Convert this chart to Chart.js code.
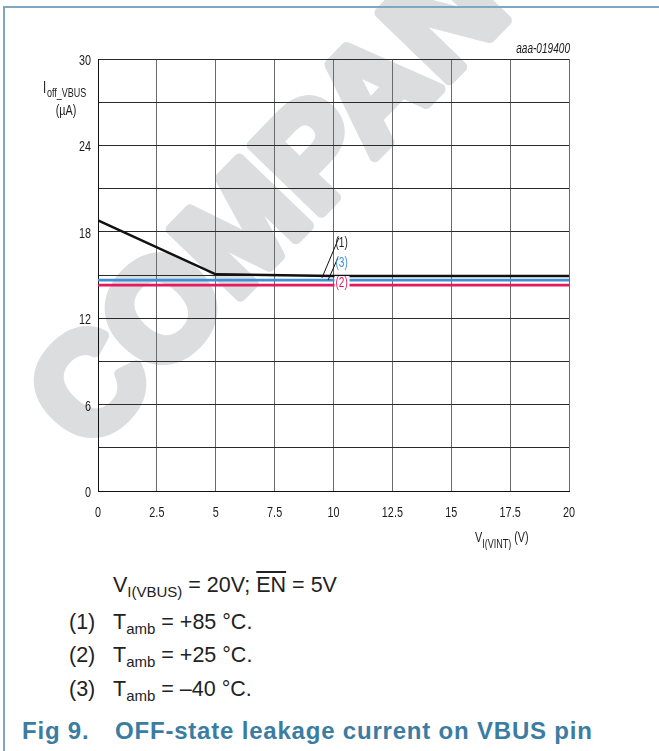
<!DOCTYPE html>
<html>
<head>
<meta charset="utf-8">
<script src="https://cdn.jsdelivr.net/npm/chart.js@4.4.1/dist/chart.umd.min.js"></script>
<style>
  body { margin: 0; background: #fff; width: 659px; height: 751px; overflow: hidden; position: relative; font-family: "Liberation Sans", Arial, sans-serif; color: #222; }
  #frame { position: absolute; left: 3px; top: 6px; width: 720px; height: 800px; border-left: 2px solid #7fa7c1; border-top: 2px solid #7fa7c1; z-index: 5; pointer-events: none; }
  #chartBox { position: absolute; left: 0; top: 0; }
  .cap { position: absolute; font-size: 21.5px; line-height: 21.5px; white-space: nowrap; }
  .cap sub { font-size: 15px; vertical-align: -5px; line-height: 0; }
  .num { position: absolute; left: 69px; }
  .txt { position: absolute; left: 113px; }
  .over { text-decoration: overline; }
  .fig { position: absolute; top: 719px; font-size: 24px; line-height: 24px; letter-spacing: 0.8px; font-weight: bold; color: #3b7ca3; white-space: nowrap; }
</style>
</head>
<body>
<div id="frame"></div>
<div id="chartBox"><canvas id="leakChart" width="659" height="550"></canvas></div>

<div class="cap" style="left:113px; top:575px;">V<sub>I(VBUS)</sub> = 20V; <span class="over">EN</span> = 5V</div>
<div class="cap" style="left:0; top:612px;"><span class="num">(1)</span><span class="txt">T<sub>amb</sub> = +85 °C.</span></div>
<div class="cap" style="left:0; top:645px;"><span class="num">(2)</span><span class="txt">T<sub>amb</sub> = +25 °C.</span></div>
<div class="cap" style="left:0; top:679px;"><span class="num">(3)</span><span class="txt">T<sub>amb</sub> = –40 °C.</span></div>
<div class="fig" style="left:22px;">Fig 9.</div>
<div class="fig" style="left:115px;">OFF-state leakage current on VBUS pin</div>

<script>
// curve (1) Tamb = +85 C
const vint85 = [0, 5, 10, 20];
const ioff85 = [18.8, 15.05, 14.93, 14.93];
// curve (2) Tamb = +25 C
const vint25 = [0, 20];
const ioff25 = [14.3, 14.3];
// curve (3) Tamb = -40 C
const vintM40 = [0, 20];
const ioffM40 = [14.65, 14.65];

const xTickLabels = ['0', '2.5', '5', '7.5', '10', '12.5', '15', '17.5', '20'];
const yTickLabels = ['0', '6', '12', '18', '24', '30'];

const FONT = '"Liberation Sans", Arial, sans-serif';

function toXY(xs, ys) {
    return xs.map((x, i) => ({ x: x, y: ys[i] }));
}

// condensed text, the original uses a narrow face
function narrowText(ctx, text, x, y, size, align, style) {
    ctx.save();
    ctx.translate(x, y);
    ctx.scale(0.72, 1);
    ctx.font = (style || '') + ' ' + size + 'px ' + FONT;
    ctx.textAlign = align || 'left';
    ctx.fillText(text, 0, 0);
    const w = ctx.measureText(text).width * 0.72;
    ctx.restore();
    return w;
}

const extras = {
    id: 'extras',
    beforeDraw(chart) {
        const ctx = chart.ctx;
        ctx.save();
        ctx.fillStyle = '#fff';
        ctx.fillRect(0, 0, chart.width, chart.height);
        // watermark
        ctx.translate(88, 454);
        ctx.rotate(-46 * Math.PI / 180);
        ctx.font = 'bold 140px ' + FONT;
        ctx.fillStyle = '#dcdddf';
        ctx.strokeStyle = '#dcdddf';
        ctx.lineWidth = 11;
        ctx.lineJoin = 'round';
        ctx.fillText('COMPANY', 0, 0);
        ctx.strokeText('COMPANY', 0, 0);
        ctx.restore();
    },
    afterDraw(chart) {
        const ctx = chart.ctx;
        const xs = chart.scales.x, ys = chart.scales.y;
        ctx.save();
        ctx.fillStyle = '#1a1a1a';
        ctx.textBaseline = 'alphabetic';

        // tick labels
        xs.ticks.forEach(t => {
            const lab = xTickLabels.find(s => parseFloat(s) === t.value);
            if (lab) narrowText(ctx, lab, xs.getPixelForValue(t.value), xs.top + 26, 15, 'center');
        });
        ys.ticks.forEach(t => {
            const lab = String(t.value);
            if (yTickLabels.includes(lab)) narrowText(ctx, lab, 91, ys.getPixelForValue(t.value) + 6, 15, 'right');
        });

        // leader lines to curves (1) and (3)
        ctx.strokeStyle = '#111';
        ctx.lineWidth = 1;
        ctx.beginPath();
        ctx.moveTo(xs.getPixelForValue(9.51), ys.getPixelForValue(14.8));
        ctx.lineTo(xs.getPixelForValue(10.23), ys.getPixelForValue(17.6));
        ctx.moveTo(xs.getPixelForValue(9.77), ys.getPixelForValue(14.65));
        ctx.lineTo(xs.getPixelForValue(10.19), ys.getPixelForValue(16.2));
        ctx.stroke();

        // curve labels
        ctx.textBaseline = 'middle';
        const lx = xs.getPixelForValue(10) + 2;
        const labels = [['(1)', 17.19, '#222'], ['(3)', 15.83, '#3d8fd6'], ['(2)', 14.44, '#e5195e']];
        labels.forEach(l => {
            const y = ys.getPixelForValue(l[1]);
            if (l[0] === '(2)') {
                ctx.fillStyle = '#fff';
                ctx.fillRect(lx - 1, y - 7, 15, 14);
            }
            ctx.fillStyle = l[2];
            narrowText(ctx, l[0], lx, y, 14, 'left');
        });

        // y axis title
        ctx.fillStyle = '#1a1a1a';
        ctx.textBaseline = 'alphabetic';
        narrowText(ctx, 'I', 43, 93, 16, 'left');
        narrowText(ctx, 'off_VBUS', 47, 97, 12.5, 'left');
        narrowText(ctx, '(µA)', 66, 115, 15, 'center');

        // x axis title
        let x = 475;
        x += narrowText(ctx, 'V', x, 542, 15, 'left');
        x += narrowText(ctx, 'I(VINT)', x, 548, 12.5, 'left') + 3;
        narrowText(ctx, '(V)', x, 542, 15, 'left');

        // figure id
        narrowText(ctx, 'aaa-019400', 570, 53, 14, 'right', 'italic');
        ctx.restore();
    }
};

new Chart(document.getElementById('leakChart'), {
    type: 'line',
    data: {
        datasets: [
            { label: '(1)', data: toXY(vint85, ioff85), borderColor: '#111', borderWidth: 2.5, order: 0 },
            { label: '(3)', data: toXY(vintM40, ioffM40), borderColor: '#3d8fd6', borderWidth: 2.8, order: 1 },
            { label: '(2)', data: toXY(vint25, ioff25), borderColor: '#e5195e', borderWidth: 2.8, order: 2 }
        ]
    },
    options: {
        responsive: false,
        animation: false,
        events: [],
        elements: { point: { radius: 0 }, line: { tension: 0 } },
        layout: { padding: { left: 0, top: 59, right: 90, bottom: 19 } },
        plugins: { legend: { display: false }, tooltip: { enabled: false } },
        scales: {
            x: {
                type: 'linear', min: 0, max: 20,
                afterFit: s => { s.height = 40; },
                afterBuildTicks: s => { s.ticks = xTickLabels.map(v => ({ value: parseFloat(v) })); },
                ticks: { display: false, autoSkip: false },
                grid: { color: '#6a6a6a', lineWidth: 1, drawTicks: false },
                border: { color: '#111', width: 1 }
            },
            y: {
                type: 'linear', min: 0, max: 30,
                afterFit: s => { s.width = 98; },
                ticks: { display: false, stepSize: 3, autoSkip: false },
                grid: { color: '#2a2a2a', lineWidth: 1, drawTicks: false },
                border: { color: '#111', width: 1 }
            }
        }
    },
    plugins: [extras]
});
</script>
</body>
</html>
